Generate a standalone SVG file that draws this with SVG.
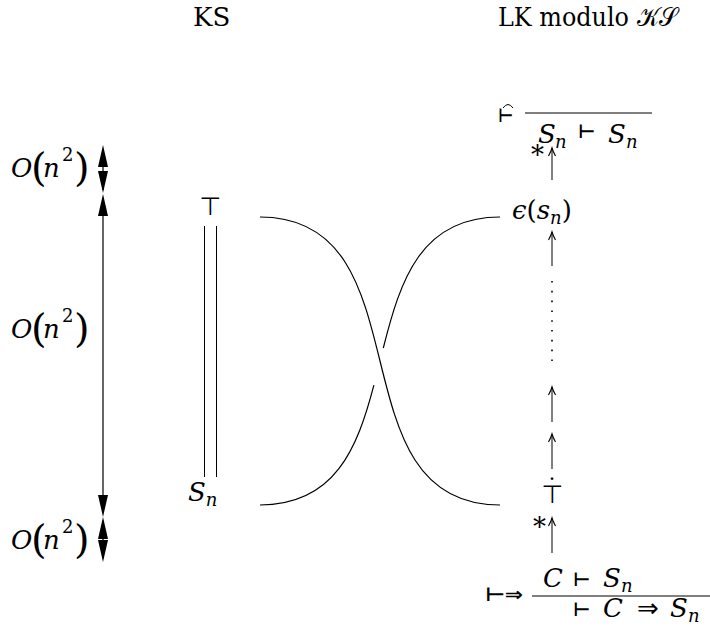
<svg xmlns="http://www.w3.org/2000/svg" width="710" height="632" viewBox="0 0 710 632">
<style>
.t{font-family:"DejaVu Serif",serif;font-size:26px;fill:#000}
.i{font-style:italic}
.s{font-family:"DejaVu Sans",sans-serif;fill:#000}
.tv{font-family:"DejaVu Sans",sans-serif;fill:#000;font-size:19px;font-weight:bold}
.sub{font-size:18px}
.ln{stroke:#000;stroke-width:1.2;fill:none}
.thin{stroke:#000;stroke-width:1;fill:none}
</style>
<defs>
<path id="ah" d="M0,0 L5,22 L-5,22 Z" fill="#000"/>
<marker id="tip" markerUnits="userSpaceOnUse" markerWidth="12" markerHeight="10" refX="0" refY="0" viewBox="-9 -5 10 10" orient="auto" overflow="visible">
<path d="M-8,-3.5 Q-3,-0.8 0,0 Q-3,0.8 -8,3.5" fill="none" stroke="#000" stroke-width="1.1"/>
</marker>
<g id="on2">
<text class="t" y="177"><tspan x="11" class="i">O</tspan><tspan x="31" y="181" font-size="40">(</tspan><tspan x="43" y="177" class="i">n</tspan><tspan x="62" y="161" font-size="18">2</tspan><tspan x="74" y="181" font-size="40">)</tspan></text>
</g>
</defs>

<g id="header-ks"><text class="t" x="193" y="26">KS</text></g>
<g id="header-lk"><text class="t" x="498" y="26" textLength="179" lengthAdjust="spacingAndGlyphs">LK modulo 𝒦𝒮</text></g>

<g id="cost-top"><use href="#on2"/></g>
<g id="cost-mid"><use href="#on2" transform="translate(0,161)"/></g>
<g id="cost-bot"><use href="#on2" transform="translate(0,372)"/></g>

<g id="ks-top"><text class="s" x="210.5" y="215" font-size="25" text-anchor="middle">⊤</text></g>
<g id="ks-bot"><text class="t" x="188" y="501"><tspan class="i">S</tspan><tspan class="i sub" dy="5">n</tspan></text></g>

<g id="lk-root">
<text class="tv" x="498" y="122" textLength="15" lengthAdjust="spacingAndGlyphs">⊢</text>
<path d="M503,108 Q508,101 513,108" class="thin"/>
<line x1="525" y1="113" x2="652" y2="113" class="thin"/>
<text class="t" y="143"><tspan x="538" class="i">S</tspan><tspan class="i sub" x="555" dy="5">n</tspan><tspan x="608" dy="-5" class="i">S</tspan><tspan class="i sub" x="626" dy="5">n</tspan></text>
<text class="tv" x="578" y="138" textLength="17" lengthAdjust="spacingAndGlyphs">⊢</text>
<text class="t" x="531" y="164" font-size="16">*</text>
</g>

<g id="lk-eps"><text class="t" x="512" y="219"><tspan class="i">ϵ</tspan>(<tspan class="i">s</tspan><tspan class="i sub" dy="5">n</tspan><tspan dy="-5">)</tspan></text></g>

<g id="lk-top-dot">
<text class="s" font-size="25" text-anchor="middle"><tspan x="552" y="496" font-family="DejaVu Serif" font-size="24">˙</tspan><tspan x="552.5" y="503">⊤</tspan></text>
</g>

<g id="lk-leaf">
<text class="t" x="533" y="536" font-size="16">*</text>
<text class="t" y="587"><tspan x="543" class="i">C</tspan><tspan x="603" class="i">S</tspan><tspan class="i sub" x="621" dy="5">n</tspan></text>
<text class="tv" x="573" y="586" textLength="17" lengthAdjust="spacingAndGlyphs">⊢</text>
<line x1="532" y1="596" x2="710" y2="596" class="thin"/>
<text class="tv" x="485" y="601" textLength="38" lengthAdjust="spacingAndGlyphs">⊢⇒</text>
<text class="tv" x="573" y="616" textLength="17" lengthAdjust="spacingAndGlyphs">⊢</text>
<text class="t" y="617"><tspan x="603" class="i">C</tspan><tspan x="670" class="i">S</tspan><tspan class="i sub" x="688" dy="5">n</tspan></text>
<text class="s" x="637" y="617" font-size="26">⇒</text>
</g>

<g id="connectors">
<line x1="103" y1="150" x2="103" y2="190" class="ln"/>
<use href="#ah" transform="translate(103,145)"/>
<use href="#ah" transform="translate(103,193) rotate(180)"/>
<line x1="103" y1="200" x2="103" y2="510" class="ln"/>
<use href="#ah" transform="translate(103,194)"/>
<use href="#ah" transform="translate(103,517) rotate(180)"/>
<line x1="103" y1="522" x2="103" y2="558" class="ln"/>
<use href="#ah" transform="translate(103,517)"/>
<use href="#ah" transform="translate(103,562) rotate(180)"/>
<line x1="204.5" y1="226" x2="204.5" y2="477" class="thin"/>
<line x1="216.5" y1="226" x2="216.5" y2="477" class="thin"/>
<path d="M260,217 C429,217 331,505 500,505" class="ln"/>
<path d="M260,505 C335,505 357.4,448.2 373.9,385.1" class="ln"/>
<path d="M383.3,348 C400.2,280.6 420.6,217 500,217" class="ln"/>
<line x1="552" y1="180" x2="552" y2="148" class="thin" marker-end="url(#tip)"/>
<line x1="552" y1="266" x2="552" y2="232" class="thin" marker-end="url(#tip)"/>
<line x1="552" y1="281" x2="552" y2="362" stroke="#000" stroke-width="1.6" stroke-dasharray="1.6 8.2" fill="none"/>
<line x1="552" y1="422" x2="552" y2="387" class="thin" marker-end="url(#tip)"/>
<line x1="552" y1="469" x2="552" y2="434" class="thin" marker-end="url(#tip)"/>
<line x1="552" y1="553" x2="552" y2="518" class="thin" marker-end="url(#tip)"/>
</g>
</svg>
